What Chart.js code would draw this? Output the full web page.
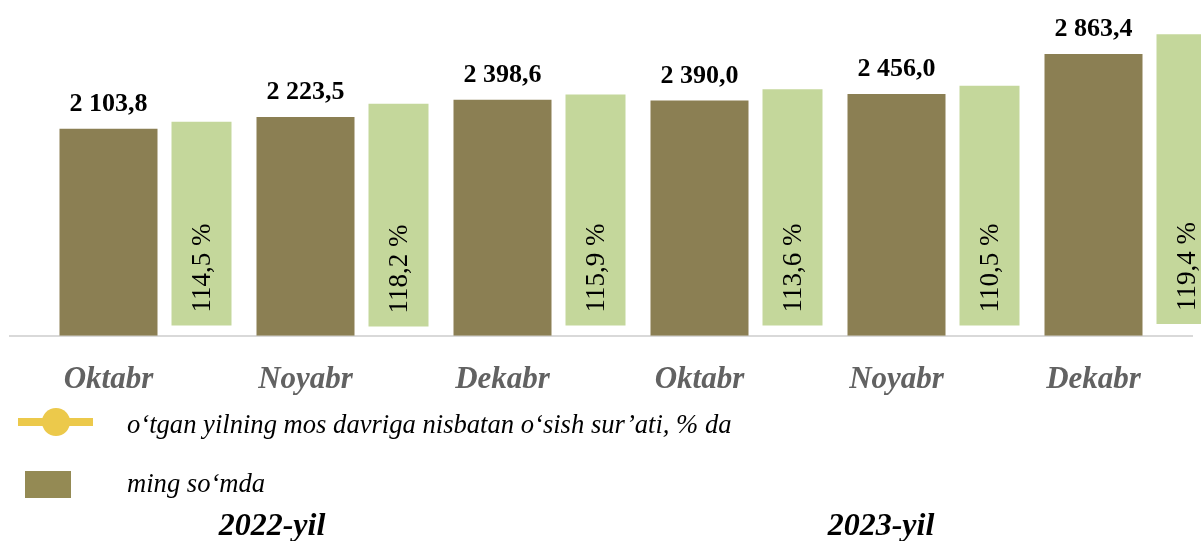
<!DOCTYPE html>
<html><head><meta charset="utf-8">
<script src="https://cdn.jsdelivr.net/npm/chart.js@4.4.0/dist/chart.umd.min.js"></script>
<style>
html,body{margin:0;padding:0;background:#fff;overflow:hidden;}
#wrap{position:relative;width:1201px;height:541px;}
#c{position:absolute;left:0;top:0;}
.t{position:absolute;font-family:"Liberation Serif","Times New Roman",serif;line-height:1;white-space:nowrap;color:#000;}
.it{font-style:italic;font-size:26.6px;}
.yr{font-style:italic;font-weight:bold;font-size:32px;transform:translateX(-50%);}
#legLine{position:absolute;left:18px;top:418px;width:75px;height:8px;background:#ecc94b;}
#legDot{position:absolute;left:42px;top:408px;width:28px;height:28px;border-radius:50%;background:#ecc94b;}
#legSq{position:absolute;left:25px;top:471px;width:46px;height:27px;background:#948a54;}
</style></head><body>
<div id="wrap">
<canvas id="c" width="1201" height="541"></canvas>
<div id="legLine"></div><div id="legDot"></div>
<div id="legSq"></div>
<div class="t it" id="leg0" style="left:127px;top:411px;"></div>
<div class="t it" id="leg1" style="left:127px;top:470px;"></div>
<div class="t yr" id="yr0" style="left:272px;top:508px;"></div>
<div class="t yr" id="yr1" style="left:881px;top:508px;"></div>
</div>
<script>
const categories = ['Oktabr', 'Noyabr', 'Dekabr', 'Oktabr', 'Noyabr', 'Dekabr'];
const years = ['2022-yil', '2023-yil'];
const wageValues = [2103.8, 2223.5, 2398.6, 2390.0, 2456.0, 2863.4];
const growthPct = [114.5, 118.2, 115.9, 113.6, 110.5, 119.4];
const growthBarBase = [105, 94, 105, 105, 105, 119];
const growthBarTop = [2173, 2358, 2450, 2505, 2541, 3063];
const legendLabels = ['o‘tgan yilning mos davriga nisbatan o‘sish sur’ati, % da', 'ming so‘mda'];

document.getElementById('leg0').textContent = legendLabels[0];
document.getElementById('leg1').textContent = legendLabels[1];
document.getElementById('yr0').textContent = years[0];
document.getElementById('yr1').textContent = years[1];

function fmtNum(v) {
  const s = v.toFixed(1).split('.');
  return s[0].replace(/\B(?=(\d{3})+(?!\d))/g, ' ') + ',' + s[1];
}
function fmtPct(v) { return v.toFixed(1).replace('.', ',') + ' %'; }

const serif = '"Liberation Serif", "Times New Roman", serif';
const labelPlugin = {
  id: 'barLabels',
  afterDatasetsDraw(chart) {
    const ctx = chart.ctx;
    ctx.save();
    ctx.fillStyle = '#000';
    ctx.font = 'bold 26px ' + serif;
    ctx.textAlign = 'center';
    ctx.textBaseline = 'alphabetic';
    chart.getDatasetMeta(1).data.forEach((bar, i) => {
      ctx.fillText(fmtNum(wageValues[i]), bar.x, bar.y - 18);
    });
    ctx.font = '27px ' + serif;
    ctx.textAlign = 'left';
    ctx.textBaseline = 'middle';
    chart.getDatasetMeta(2).data.forEach((bar, i) => {
      ctx.save();
      ctx.translate(bar.x + 1, bar.base - 13);
      ctx.rotate(-Math.PI / 2);
      ctx.fillText(fmtPct(growthPct[i]), 0, 0);
      ctx.restore();
    });
    ctx.restore();
  }
};

const slot = 93, pitch = 197;
new Chart(document.getElementById('c'), {
  type: 'bar',
  data: {
    labels: categories,
    datasets: [
      { label: '', data: categories.map(() => null), backgroundColor: 'rgba(0,0,0,0)',
        categoryPercentage: 3 * slot / pitch, barPercentage: 1 },
      { label: legendLabels[1], data: wageValues, backgroundColor: '#8b7f53',
        categoryPercentage: 3 * slot / pitch, barPercentage: 98 / slot },
      { label: legendLabels[0], data: growthBarBase.map((b, i) => [b, growthBarTop[i]]),
        backgroundColor: '#c4d79b', categoryPercentage: 3 * slot / pitch, barPercentage: 60 / slot, clip: false }
    ]
  },
  options: {
    responsive: false,
    animation: false,
    devicePixelRatio: 1,
    layout: { padding: { left: 10, right: 9, top: 6, bottom: 124 } },
    plugins: { legend: { display: false }, tooltip: { enabled: false } },
    scales: {
      x: {
        offset: true,
        grid: { display: false },
        border: { display: true, color: '#d9d9d9', width: 2 },
        ticks: { color: '#626262', padding: 18, maxRotation: 0, autoSkip: false,
          font: { family: serif, size: 31, style: 'italic', weight: 'bold', lineHeight: 1.2 } }
      },
      y: { display: false, min: 0, max: 3350 }
    }
  },
  plugins: [labelPlugin]
});
</script>
</body></html>
